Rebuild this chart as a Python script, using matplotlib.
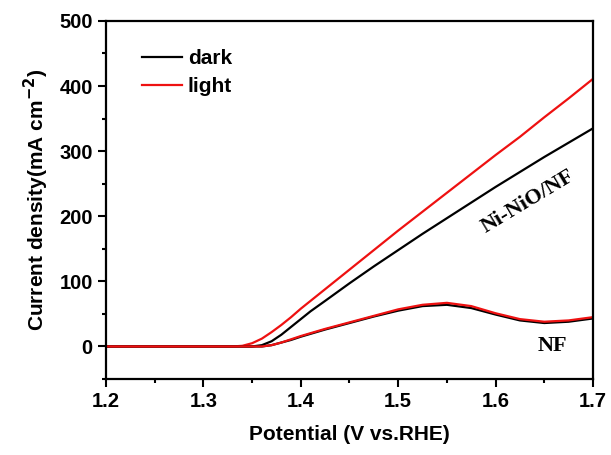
import matplotlib.pyplot as plt
from matplotlib.ticker import MultipleLocator

# potential (V vs. RHE)
v_nio = [1.20, 1.30, 1.33, 1.34, 1.35, 1.36, 1.37, 1.38, 1.39, 1.40, 1.41, 1.425, 1.45,
         1.475, 1.50, 1.525, 1.55, 1.575, 1.60, 1.625, 1.65, 1.675, 1.70]
# Ni-NiO/NF current density (mA cm-2)
nio_dark = [0, 0, 0, 0, 0, 2, 8, 18, 30, 42, 54, 70, 97,
            123, 148, 173, 197, 221, 245, 268, 291, 313, 335]
nio_light = [0, 0, 0, 1, 5, 12, 22, 33, 45, 58, 70, 88, 118,
             148, 178, 207, 236, 265, 294, 322, 352, 381, 411]

v_nf = [1.20, 1.30, 1.36, 1.37, 1.38, 1.39, 1.40, 1.425, 1.45, 1.475, 1.50, 1.525,
        1.55, 1.575, 1.60, 1.625, 1.65, 1.675, 1.70]
nf_dark = [0, 0, 0, 2, 6, 10, 15, 26, 36, 46, 55, 62, 64, 59, 49, 40, 36, 38, 43]
nf_light = [0, 0, 0, 2, 6, 11, 16, 27, 37, 47, 57, 64, 67, 62, 51, 42, 38, 40, 45]

plt.rcParams['font.family'] = ['Liberation Sans', 'DejaVu Sans']
plt.rcParams['font.weight'] = 'bold'

fig = plt.figure(figsize=(6.11, 4.55), dpi=100)
ax = fig.add_axes([0.1735, 0.167, 0.797, 0.787])

ax.plot(v_nio, nio_dark, color='black', lw=1.6, label='dark')
ax.plot(v_nio, nio_light, color='#ee1111', lw=1.6, label='light')
ax.plot(v_nf, nf_dark, color='black', lw=1.6)
ax.plot(v_nf, nf_light, color='#ee1111', lw=1.6)

ax.set_xlim(1.2, 1.7)
ax.set_ylim(-50, 500)
ax.xaxis.set_major_locator(MultipleLocator(0.1))
ax.xaxis.set_minor_locator(MultipleLocator(0.05))
ax.yaxis.set_major_locator(MultipleLocator(100))
ax.yaxis.set_minor_locator(MultipleLocator(50))
ax.tick_params(which='major', direction='out', length=6, width=1.5, labelsize=14.5)
ax.tick_params(which='minor', direction='out', length=3, width=1.5)
for s in ax.spines.values():
    s.set_linewidth(1.6)

ax.set_xlabel('Potential (V vs.RHE)', fontsize=15, fontweight='bold', labelpad=10)
ax.set_ylabel('Current density(mA cm$^{\\mathbf{-2}}$)', fontsize=15, fontweight='bold', labelpad=6)

ax.legend(loc='upper left', bbox_to_anchor=(0.074, 0.922), frameon=False, fontsize=15,
          handlelength=1.9, handletextpad=0.3, labelspacing=0.45,
          borderaxespad=0, borderpad=0)

ax.text(1.633, 223, 'Ni-NiO/NF', family='Liberation Serif', fontweight='bold', fontsize=16,
        rotation=31, ha='center', va='center')
ax.text(1.658, 0, 'NF', family='Liberation Serif', fontweight='bold', fontsize=16,
        ha='center', va='center')

fig.savefig('out.png', dpi=100)
